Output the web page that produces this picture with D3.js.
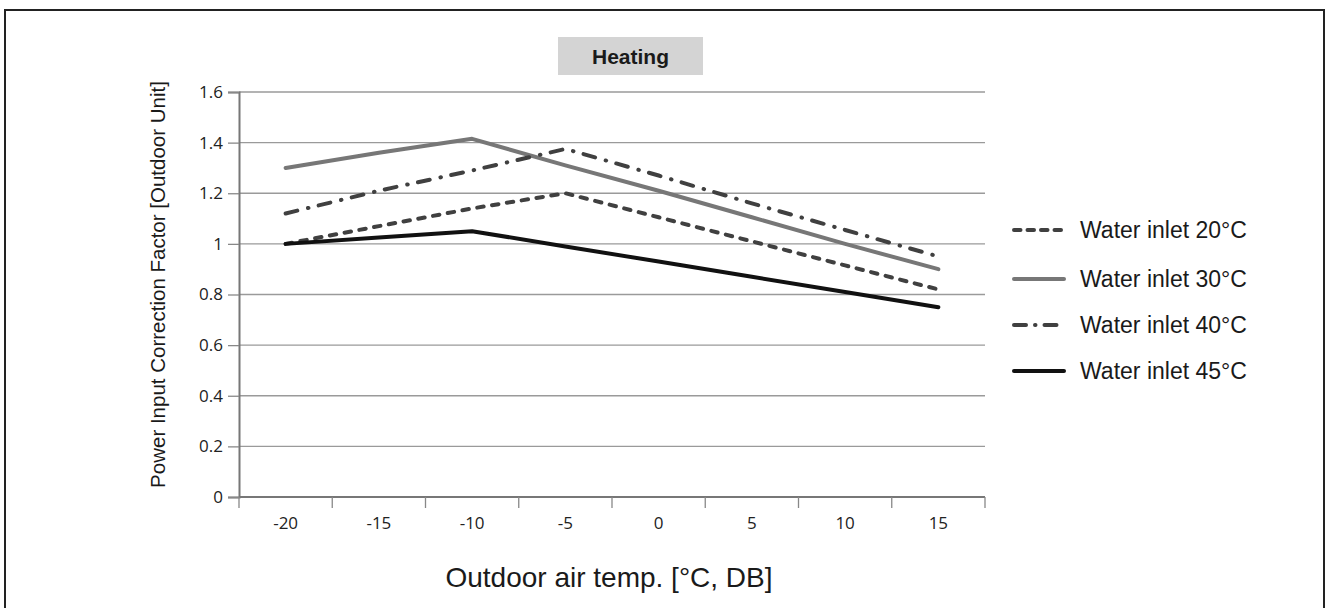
<!DOCTYPE html>
<html>
<head>
<meta charset="utf-8">
<script src="https://cdn.jsdelivr.net/npm/d3@7"></script>
<style>
html,body{margin:0;padding:0;background:#fff;}
svg{display:block;}
</style>
</head>
<body>
<svg id="chart" width="1329" height="608"></svg>
<script>
const categories = [-20, -15, -10, -5, 0, 5, 10, 15];
const yTicks = [0, 0.2, 0.4, 0.6, 0.8, 1, 1.2, 1.4, 1.6];
const seriesNames = ["Water inlet 20°C", "Water inlet 30°C", "Water inlet 40°C", "Water inlet 45°C"];
const inlet20 = [1.0, 1.07, 1.14, 1.2, 1.105, 1.01, 0.915, 0.82];
const inlet30 = [1.3, 1.36, 1.415, 1.31, 1.21, 1.105, 1.0, 0.9];
const inlet40 = [1.12, 1.21, 1.29, 1.375, 1.27, 1.16, 1.055, 0.95];
const inlet45 = [1.0, 1.025, 1.05, 0.99, 0.93, 0.87, 0.81, 0.75];

const seriesValues = [inlet20, inlet30, inlet40, inlet45];
const styles = [
  {color: "#404040", width: 4, dash: "6.5,8.5"},
  {color: "#777777", width: 4, dash: null},
  {color: "#404040", width: 4, dash: "12,11,0.5,10.5"},
  {color: "#111111", width: 4, dash: null}
];

const svg = d3.select("#chart");
const pLeft = 239, pRight = 985, pTop = 92, pBottom = 497;

// outer frame
svg.append("rect").attr("x", 5).attr("y", 10).attr("width", 1319).attr("height", 620)
  .attr("fill", "none").attr("stroke", "#222").attr("stroke-width", 2);

const x = d3.scaleBand().domain(categories).range([pLeft, pRight]).padding(0);
const y = d3.scaleLinear().domain([0, 1.6]).range([pBottom, pTop]);

// gridlines
svg.append("g").selectAll("line").data(yTicks.filter(d => d > 0)).join("line")
  .attr("x1", pLeft).attr("x2", pRight)
  .attr("y1", d => y(d)).attr("y2", d => y(d))
  .attr("stroke", "#9a9a9a").attr("stroke-width", 1.3);

// y axis
const yAxis = d3.axisLeft(y).tickValues(yTicks).tickSize(11).tickPadding(5)
  .tickFormat(d => String(+d.toFixed(1)));
const gy = svg.append("g").attr("transform", `translate(${pLeft},0)`).call(yAxis);
gy.attr("font-size", null).attr("font-family", null);
gy.select(".domain").attr("stroke", "#777").attr("stroke-width", 2);
gy.selectAll(".tick line").attr("stroke", "#888").attr("stroke-width", 1.3);
gy.selectAll(".tick text").style("font-family", "'Open Sans', sans-serif").style("font-size", "17px").attr("fill", "#222");

// x axis: ticks on band boundaries
const boundaries = categories.map(c => x(c)).concat([pRight]);
const gx = svg.append("g").attr("transform", `translate(0,${pBottom})`);
gx.append("line").attr("x1", pLeft).attr("x2", pRight).attr("y1", 0).attr("y2", 0)
  .attr("stroke", "#777").attr("stroke-width", 2);
gx.selectAll("line.tk").data(boundaries).join("line").attr("class", "tk")
  .attr("x1", d => d).attr("x2", d => d).attr("y1", 0).attr("y2", 11)
  .attr("stroke", "#888").attr("stroke-width", 1.3);
gx.selectAll("text").data(categories).join("text")
  .attr("x", d => x(d) + x.bandwidth() / 2).attr("y", 32)
  .attr("text-anchor", "middle")
  .style("font-family", "'Open Sans', sans-serif").style("font-size", "17px").attr("fill", "#222")
  .text(d => d);

// lines
const line = d3.line()
  .x((d, i) => x(categories[i]) + x.bandwidth() / 2)
  .y(d => y(d));
seriesValues.forEach((vals, i) => {
  const s = styles[i];
  svg.append("path").datum(vals)
    .attr("d", line)
    .attr("fill", "none")
    .attr("stroke", s.color)
    .attr("stroke-width", s.width)
    .attr("stroke-linecap", "round")
    .attr("stroke-linejoin", "round")
    .attr("stroke-dasharray", s.dash);
});

// title box
const tg = svg.append("g");
tg.append("rect").attr("x", 558).attr("y", 37).attr("width", 145).attr("height", 38).attr("fill", "#d4d4d4");
tg.append("text").attr("x", 630.5).attr("y", 64).attr("text-anchor", "middle")
  .attr("font-family", "'Liberation Sans', Arial, sans-serif").attr("font-size", 21).attr("font-weight", "bold")
  .attr("fill", "#1a1a1a").text("Heating");

// axis titles
svg.append("text").attr("x", (pLeft + pRight) / 2 - 3).attr("y", 587).attr("text-anchor", "middle")
  .attr("font-family", "'Liberation Sans', Arial, sans-serif").attr("font-size", 28).attr("fill", "#1a1a1a")
  .text("Outdoor air temp. [°C, DB]");
svg.append("text").attr("transform", `translate(165,${(pTop + pBottom) / 2 - 10}) rotate(-90)`)
  .attr("text-anchor", "middle")
  .attr("font-family", "'Liberation Sans', Arial, sans-serif").attr("font-size", 20.5).attr("fill", "#1a1a1a")
  .text("Power Input Correction Factor [Outdoor Unit]");

// legend
const legY = [230, 279, 325, 371];
const lg = svg.append("g");
seriesNames.forEach((n, i) => {
  const s = styles[i];
  const dash = i === 0 ? "6.5,7" : (i === 2 ? "12,9,0.5,9" : null);
  lg.append("line").attr("x1", 1014).attr("x2", 1064).attr("y1", legY[i]).attr("y2", legY[i])
    .attr("stroke", s.color).attr("stroke-width", s.width).attr("stroke-linecap", "round")
    .attr("stroke-dasharray", dash);
  lg.append("text").attr("x", 1080).attr("y", legY[i] + 8)
    .attr("font-family", "'Liberation Sans', Arial, sans-serif").attr("font-size", 23).attr("fill", "#1a1a1a")
    .text(n);
});
</script>
</body>
</html>
